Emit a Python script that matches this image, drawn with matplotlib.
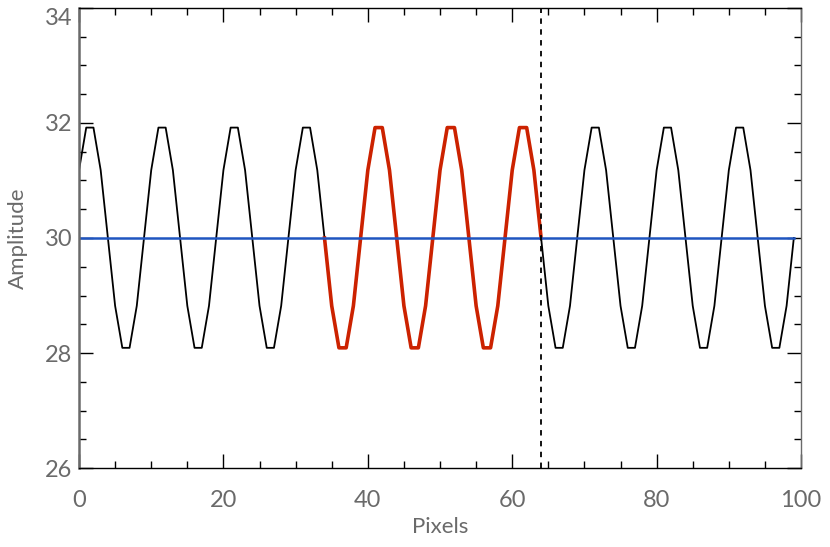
import numpy as np
import matplotlib
matplotlib.use("Agg")
import matplotlib.pyplot as plt
from matplotlib.ticker import MultipleLocator

pixels = np.arange(100)
amplitude = [
    31.18, 31.92, 31.92, 31.18, 30.00, 28.82, 28.09, 28.09, 28.82, 30.00,
    31.18, 31.92, 31.92, 31.18, 30.00, 28.82, 28.09, 28.09, 28.82, 30.00,
    31.18, 31.92, 31.92, 31.18, 30.00, 28.82, 28.09, 28.09, 28.82, 30.00,
    31.18, 31.92, 31.92, 31.18, 30.00, 28.82, 28.09, 28.09, 28.82, 30.00,
    31.18, 31.92, 31.92, 31.18, 30.00, 28.82, 28.09, 28.09, 28.82, 30.00,
    31.18, 31.92, 31.92, 31.18, 30.00, 28.82, 28.09, 28.09, 28.82, 30.00,
    31.18, 31.92, 31.92, 31.18, 30.00, 28.82, 28.09, 28.09, 28.82, 30.00,
    31.18, 31.92, 31.92, 31.18, 30.00, 28.82, 28.09, 28.09, 28.82, 30.00,
    31.18, 31.92, 31.92, 31.18, 30.00, 28.82, 28.09, 28.09, 28.82, 30.00,
    31.18, 31.92, 31.92, 31.18, 30.00, 28.82, 28.09, 28.09, 28.82, 30.00,
]
mean_level = 30.0
seg_start, seg_end = 34, 64   # highlighted window
marker_x = 64

amplitude = np.array(amplitude)

plt.rcParams["font.family"] = ["Lato", "DejaVu Sans"]

fig = plt.figure(figsize=(8.3, 5.47), dpi=100)
ax = fig.add_axes([0.0952, 0.1444, 0.8699, 0.8410])

ax.plot(pixels, amplitude, color="black", lw=1.3)
ax.plot(pixels[seg_start:seg_end + 1], amplitude[seg_start:seg_end + 1],
        color="#cc2200", lw=2.6)
ax.plot([pixels[0], pixels[-1]], [mean_level, mean_level], color="#1f55c0", lw=1.8)
ax.axvline(marker_x, color="black", lw=1.3, ls=(0, (3, 3)))

ax.set_xlim(0, 100)
ax.set_ylim(26, 34)
ax.xaxis.set_major_locator(MultipleLocator(20))
ax.xaxis.set_minor_locator(MultipleLocator(5))
ax.yaxis.set_major_locator(MultipleLocator(2))
ax.yaxis.set_minor_locator(MultipleLocator(0.5))

grey = "#6a6a6a"
ax.tick_params(which="both", direction="in", top=True, right=True,
               labelcolor=grey, labelsize=17, width=1.0)
ax.tick_params(axis="x", which="major", length=10, pad=16)
ax.tick_params(axis="y", which="major", length=10, pad=5)
ax.tick_params(which="minor", length=5)
for s in ax.spines.values():
    s.set_linewidth(1.0)
ax.spines["left"].set_color(grey)
ax.spines["left"].set_linewidth(1.8)
ax.spines["right"].set_color(grey)

ax.set_xlabel("Pixels", color=grey, fontsize=16, labelpad=4)
ax.set_ylabel("Amplitude", color=grey, fontsize=16, labelpad=12)

# keep the top label inside the figure, like the original
fig.canvas.draw()
for t in ax.yaxis.get_major_ticks():
    if abs(t.get_loc() - 34) < 1e-6:
        t.label1.set_verticalalignment("top")

fig.savefig("out.png", dpi=100)
